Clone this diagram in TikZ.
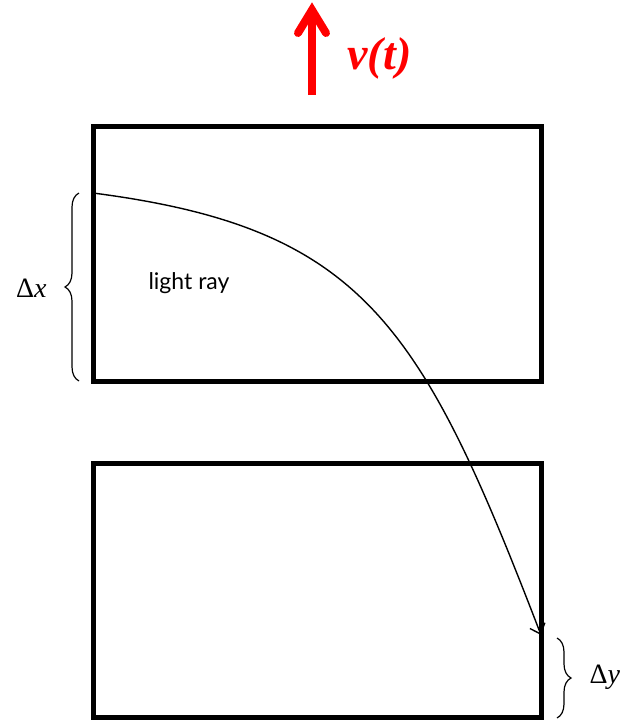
\documentclass[tikz,border=0pt]{standalone}
\usepackage{fontspec}
\setmainfont{Liberation Serif}
\newfontfamily\raysans{Lato}
\usetikzlibrary{arrows.meta,decorations.pathreplacing}
\begin{document}
\begin{tikzpicture}[x=1pt,y=-1pt,
  boxline/.style={line width=5pt},
  bracestyle/.style={line width=1.2pt,decorate,decoration={brace,amplitude=14pt}},
  raystyle/.style={line width=1.4pt,-{Straight Barb[length=9pt,width=16pt,line width=1.4pt]}},
  redarrow/.style={line width=8pt,red},
  deltalabel/.style={font=\fontsize{28}{32}\selectfont}]
\useasboundingbox (0,0) rectangle (624,721);
\draw[boxline] (93,126) rectangle (541,381);
\draw[boxline] (93,463) rectangle (541,717);
\coordinate (rs) at (93,193);
\coordinate (re) at (541,635);
\draw[raystyle] (rs) .. controls (363,228) and (421,323) .. (re);
\node[font=\raysans\fontsize{23}{26}\selectfont] (lr) at (189,283) {light ray};
\coordinate (bxa) at (79,381);
\coordinate (bxb) at (79,193);
\draw[bracestyle] (bxa) -- (bxb);
\node[deltalabel,anchor=east] (dx) at (50,288) {Δ\textit{x}};
\coordinate (bya) at (557,638);
\coordinate (byb) at (557,718);
\draw[bracestyle] (bya) -- (byb);
\node[deltalabel,anchor=west] (dy) at (586,677) {Δ\textit{y}};
\coordinate (va) at (312,95);
\coordinate (vb) at (312,12);
\draw[redarrow] (va) -- (vb);
\draw[redarrow,line cap=round,line join=miter] (298,33) -- (312,10) -- (326,33);
\node[font=\fontsize{46}{50}\selectfont\bfseries\itshape,text=red,anchor=west] (vt) at (344,58) {v(t)};
\end{tikzpicture}
\end{document}
